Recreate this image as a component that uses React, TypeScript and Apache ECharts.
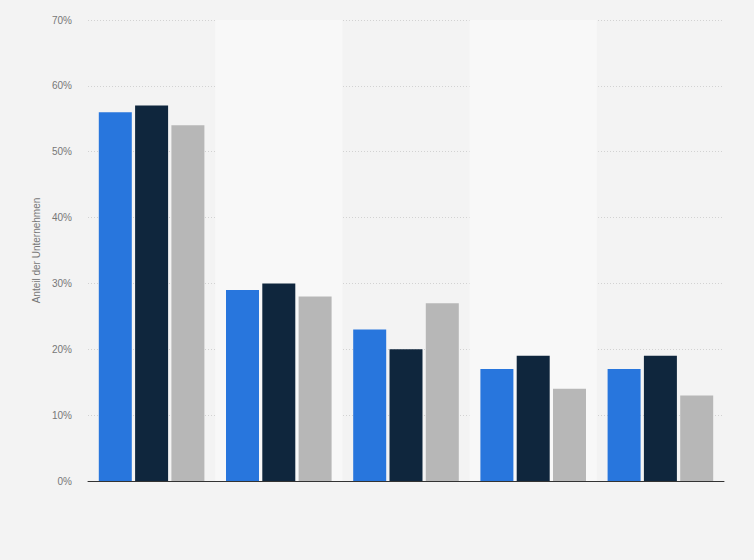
import React, { useEffect, useRef } from "react";
import * as echarts from "echarts";

const categories = ["A", "B", "C", "D", "E"];
const series1 = [56, 29, 23, 17, 17];
const series2 = [57, 30, 20, 19, 19];
const series3 = [54, 28, 27, 14, 13];
const seriesNames = ["Serie 1", "Serie 2", "Serie 3"];
const colors = ["#2876dd", "#0f263d", "#b7b7b7"];

export default function App() {
  const ref = useRef<HTMLDivElement>(null);
  useEffect(() => {
    document.body.style.margin = "0";
    const chart = echarts.init(ref.current!, null, { renderer: "svg" });
    const data = [series1, series2, series3];
    chart.setOption({
      animation: false,
      backgroundColor: "#f3f3f3",
      grid: { left: 88, right: 30, top: 20, bottom: 79 },
      xAxis: {
        type: "category",
        data: categories,
        axisLabel: { show: false },
        axisTick: { show: false },
        axisLine: { show: true, lineStyle: { color: "#333", width: 1 } },
        splitArea: { show: true, areaStyle: { color: ["rgba(0,0,0,0)", "#f8f8f8"] } },
      },
      yAxis: {
        type: "value",
        min: 0,
        max: 70,
        interval: 10,
        name: "Anteil der Unternehmen",
        nameLocation: "middle",
        nameGap: 40,
        nameTextStyle: { color: "#777", fontSize: 10, fontFamily: "Liberation Sans, Arial, sans-serif" },
        axisLabel: {
          formatter: "{value}%",
          color: "#777",
          fontSize: 10,
          margin: 16,
          fontFamily: "Liberation Sans, Arial, sans-serif",
        },
        axisLine: { show: false },
        axisTick: { show: false },
        splitLine: { lineStyle: { color: "#d2d2d2", type: [1, 2], width: 1 } },
      },
      series: data.map((d, i) => ({
        type: "bar",
        name: seriesNames[i],
        data: d,
        barWidth: 33,
        barGap: "10%",
        itemStyle: { color: colors[i] },
      })),
    });
    return () => chart.dispose();
  }, []);
  return <div ref={ref} style={{ width: 754, height: 560 }} />;
}
